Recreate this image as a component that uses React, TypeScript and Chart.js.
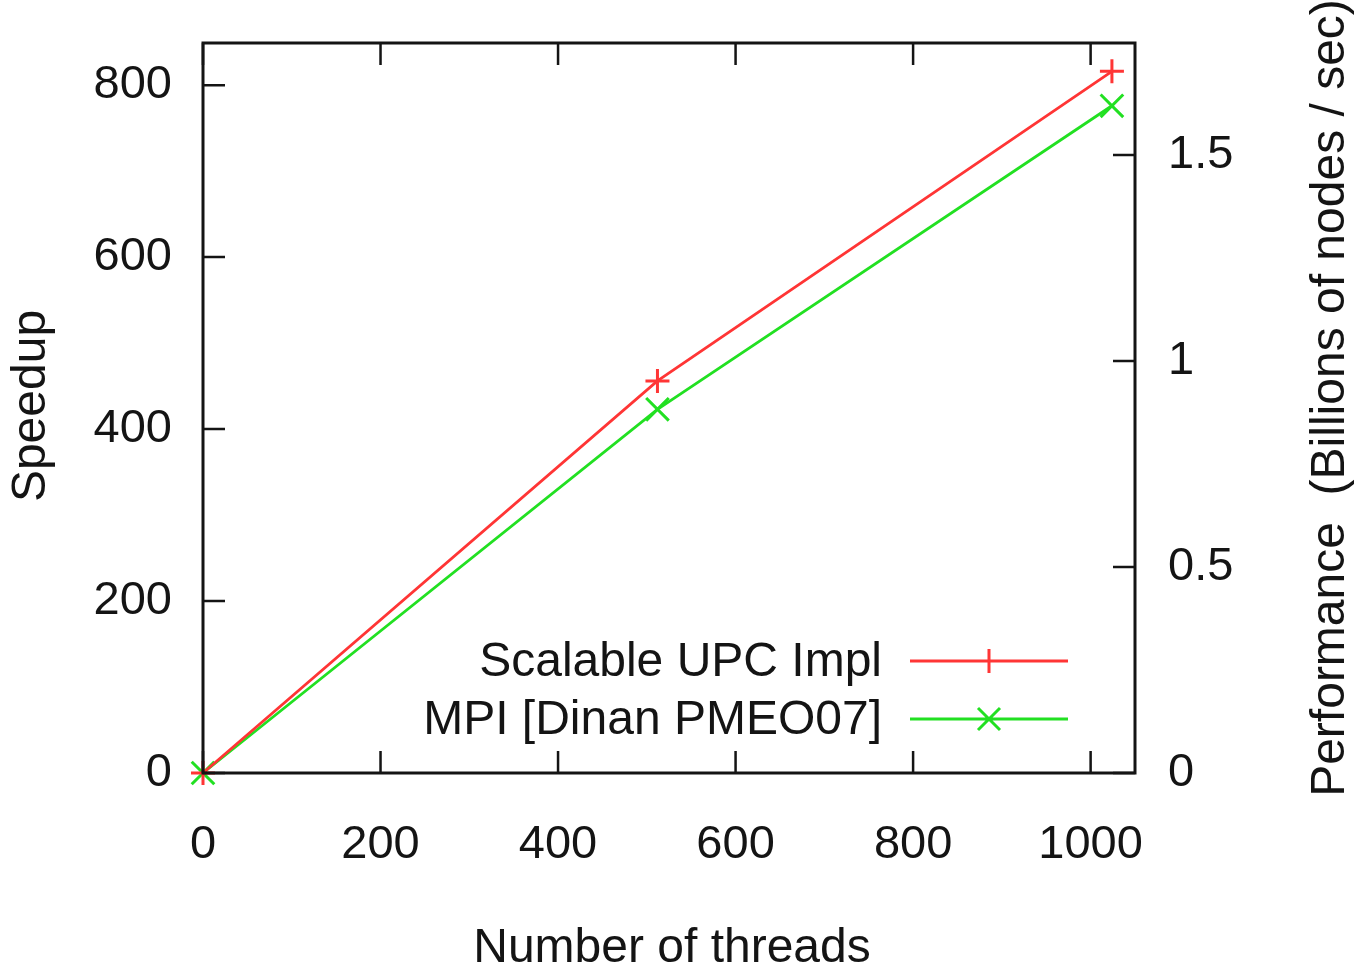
import React, { useEffect, useRef } from "react";
import { Chart, registerables } from "chart.js";

Chart.register(...registerables);

const threads = [0, 512, 1024];
const upcSpeedup = [0, 456, 816];
const mpiSpeedup = [0, 423, 776];
const seriesLabels = ["Scalable UPC Impl", "MPI [Dinan PMEO07]"];
const xTickValues = [0, 200, 400, 600, 800, 1000];
const yTickValues = [0, 200, 400, 600, 800];
const y2TickValues = [0, 0.5, 1, 1.5];

const FONT = "'Liberation Sans', Arial, Helvetica, sans-serif";
const FS = 47;
const TFS = 48;
const INK = "#141414";
const RED = "#ff3535";
const GREEN = "#22e022";

const framePlugin = {
  id: "frame",
  afterDatasetsDraw(chart: any) {
    const { ctx, chartArea: a, scales } = chart;
    const tl = 22;
    ctx.save();
    ctx.strokeStyle = INK;
    ctx.lineWidth = 2.5;
    ctx.beginPath();
    for (const v of xTickValues) {
      const x = scales.x.getPixelForValue(v);
      ctx.moveTo(x, a.top);
      ctx.lineTo(x, a.top + tl);
      ctx.moveTo(x, a.bottom);
      ctx.lineTo(x, a.bottom - tl);
    }
    for (const v of yTickValues) {
      const y = scales.y.getPixelForValue(v);
      ctx.moveTo(a.left, y);
      ctx.lineTo(a.left + tl, y);
    }
    for (const v of y2TickValues) {
      const y = scales.y2.getPixelForValue(v);
      ctx.moveTo(a.right, y);
      ctx.lineTo(a.right - tl, y);
    }
    ctx.stroke();
    ctx.lineWidth = 3;
    ctx.strokeRect(a.left, a.top, a.right - a.left, a.bottom - a.top);

    // legend
    ctx.font = `${TFS}px ${FONT}`;
    ctx.textAlign = "right";
    ctx.textBaseline = "middle";
    chart.data.datasets.forEach((ds: any, i: number) => {
      const y = a.top + 618 + i * 58;
      ctx.fillStyle = INK;
      ctx.fillText(ds.label, a.left + 679, y + 2);
      ctx.strokeStyle = ds.borderColor;
      ctx.lineWidth = 3;
      ctx.beginPath();
      ctx.moveTo(a.left + 707, y);
      ctx.lineTo(a.left + 865, y);
      const cx = a.left + 786;
      if (ds.pointStyle === "cross") {
        ctx.moveTo(cx - 12, y);
        ctx.lineTo(cx + 12, y);
        ctx.moveTo(cx, y - 12);
        ctx.lineTo(cx, y + 12);
      } else {
        const r = 11;
        ctx.moveTo(cx - r, y - r);
        ctx.lineTo(cx + r, y + r);
        ctx.moveTo(cx - r, y + r);
        ctx.lineTo(cx + r, y - r);
      }
      ctx.stroke();
    });

    // axis titles
    ctx.fillStyle = INK;
    ctx.textAlign = "center";
    ctx.textBaseline = "middle";
    const cy = (a.top + a.bottom) / 2;
    ctx.save();
    ctx.translate(32, cy - 2);
    ctx.rotate(-Math.PI / 2);
    ctx.fillText("Speedup", 0, 0);
    ctx.restore();
    ctx.save();
    ctx.translate(1331, cy - 10);
    ctx.rotate(-Math.PI / 2);
    ctx.fillText("Performance  (Billions of nodes / sec)", 0, 0);
    ctx.restore();
    ctx.fillText("Number of threads", (a.left + a.right) / 2 + 3, 949);
    ctx.restore();
  },
};

const noPad = (s: any) => {
  s.paddingTop = 0;
  s.paddingBottom = 0;
};

export default function App() {
  const ref = useRef<HTMLCanvasElement | null>(null);
  useEffect(() => {
    document.body.style.margin = "0";
    const canvas = ref.current!;
    const tickFont = { family: FONT, size: FS };
    const chart = new Chart(canvas, {
      type: "line",
      data: {
        datasets: [
          {
            label: seriesLabels[0],
            data: threads.map((t, i) => ({ x: t, y: upcSpeedup[i] })),
            borderColor: RED,
            backgroundColor: RED,
            borderWidth: 2.8,
            pointStyle: "cross",
            pointRadius: 12,
            pointBorderWidth: 3,
            clip: false,
            yAxisID: "y",
          },
          {
            label: seriesLabels[1],
            data: threads.map((t, i) => ({ x: t, y: mpiSpeedup[i] })),
            borderColor: GREEN,
            backgroundColor: GREEN,
            borderWidth: 2.8,
            pointStyle: "crossRot",
            pointRadius: 16,
            pointBorderWidth: 3,
            clip: false,
            yAxisID: "y",
          },
        ],
      },
      options: {
        animation: false,
        responsive: false,
        maintainAspectRatio: false,
        layout: { padding: { left: 0, top: 43, right: 0, bottom: 0 } },
        plugins: { legend: { display: false }, tooltip: { enabled: false } },
        scales: {
          x: {
            type: "linear",
            min: 0,
            max: 1050,
            grid: { display: false, drawTicks: false },
            border: { display: false },
            afterBuildTicks: (s: any) => {
              s.ticks = xTickValues.map((v) => ({ value: v }));
            },
            afterFit: (s: any) => {
              s.height = 198;
              s.paddingLeft = 0;
              s.paddingRight = 0;
            },
            ticks: { font: tickFont, color: INK, padding: 44, maxRotation: 0, autoSkip: false, callback: (v: any) => String(v) },
          },
          y: {
            type: "linear",
            position: "left",
            min: 0,
            max: 849,
            grid: { display: false, drawTicks: false },
            border: { display: false },
            afterBuildTicks: (s: any) => {
              s.ticks = yTickValues.map((v) => ({ value: v }));
            },
            afterFit: (s: any) => {
              s.width = 203;
              noPad(s);
            },
            ticks: { font: tickFont, color: INK, padding: 31, autoSkip: false, callback: (v: any) => String(v) },
          },
          y2: {
            type: "linear",
            position: "right",
            min: 0,
            max: 1.772,
            grid: { display: false, drawTicks: false },
            border: { display: false },
            afterBuildTicks: (s: any) => {
              s.ticks = y2TickValues.map((v) => ({ value: v }));
            },
            afterFit: (s: any) => {
              s.width = 225;
              noPad(s);
            },
            ticks: { font: tickFont, color: INK, padding: 33, autoSkip: false, callback: (v: any) => String(v) },
          },
        },
      },
      plugins: [framePlugin],
    } as any);
    return () => chart.destroy();
  }, []);
  return (
    <div style={{ position: "fixed", left: 0, top: 0, width: 1360, height: 971, background: "#fff" }}>
      <canvas ref={ref} width={1360} height={971} style={{ width: 1360, height: 971 }} />
    </div>
  );
}
